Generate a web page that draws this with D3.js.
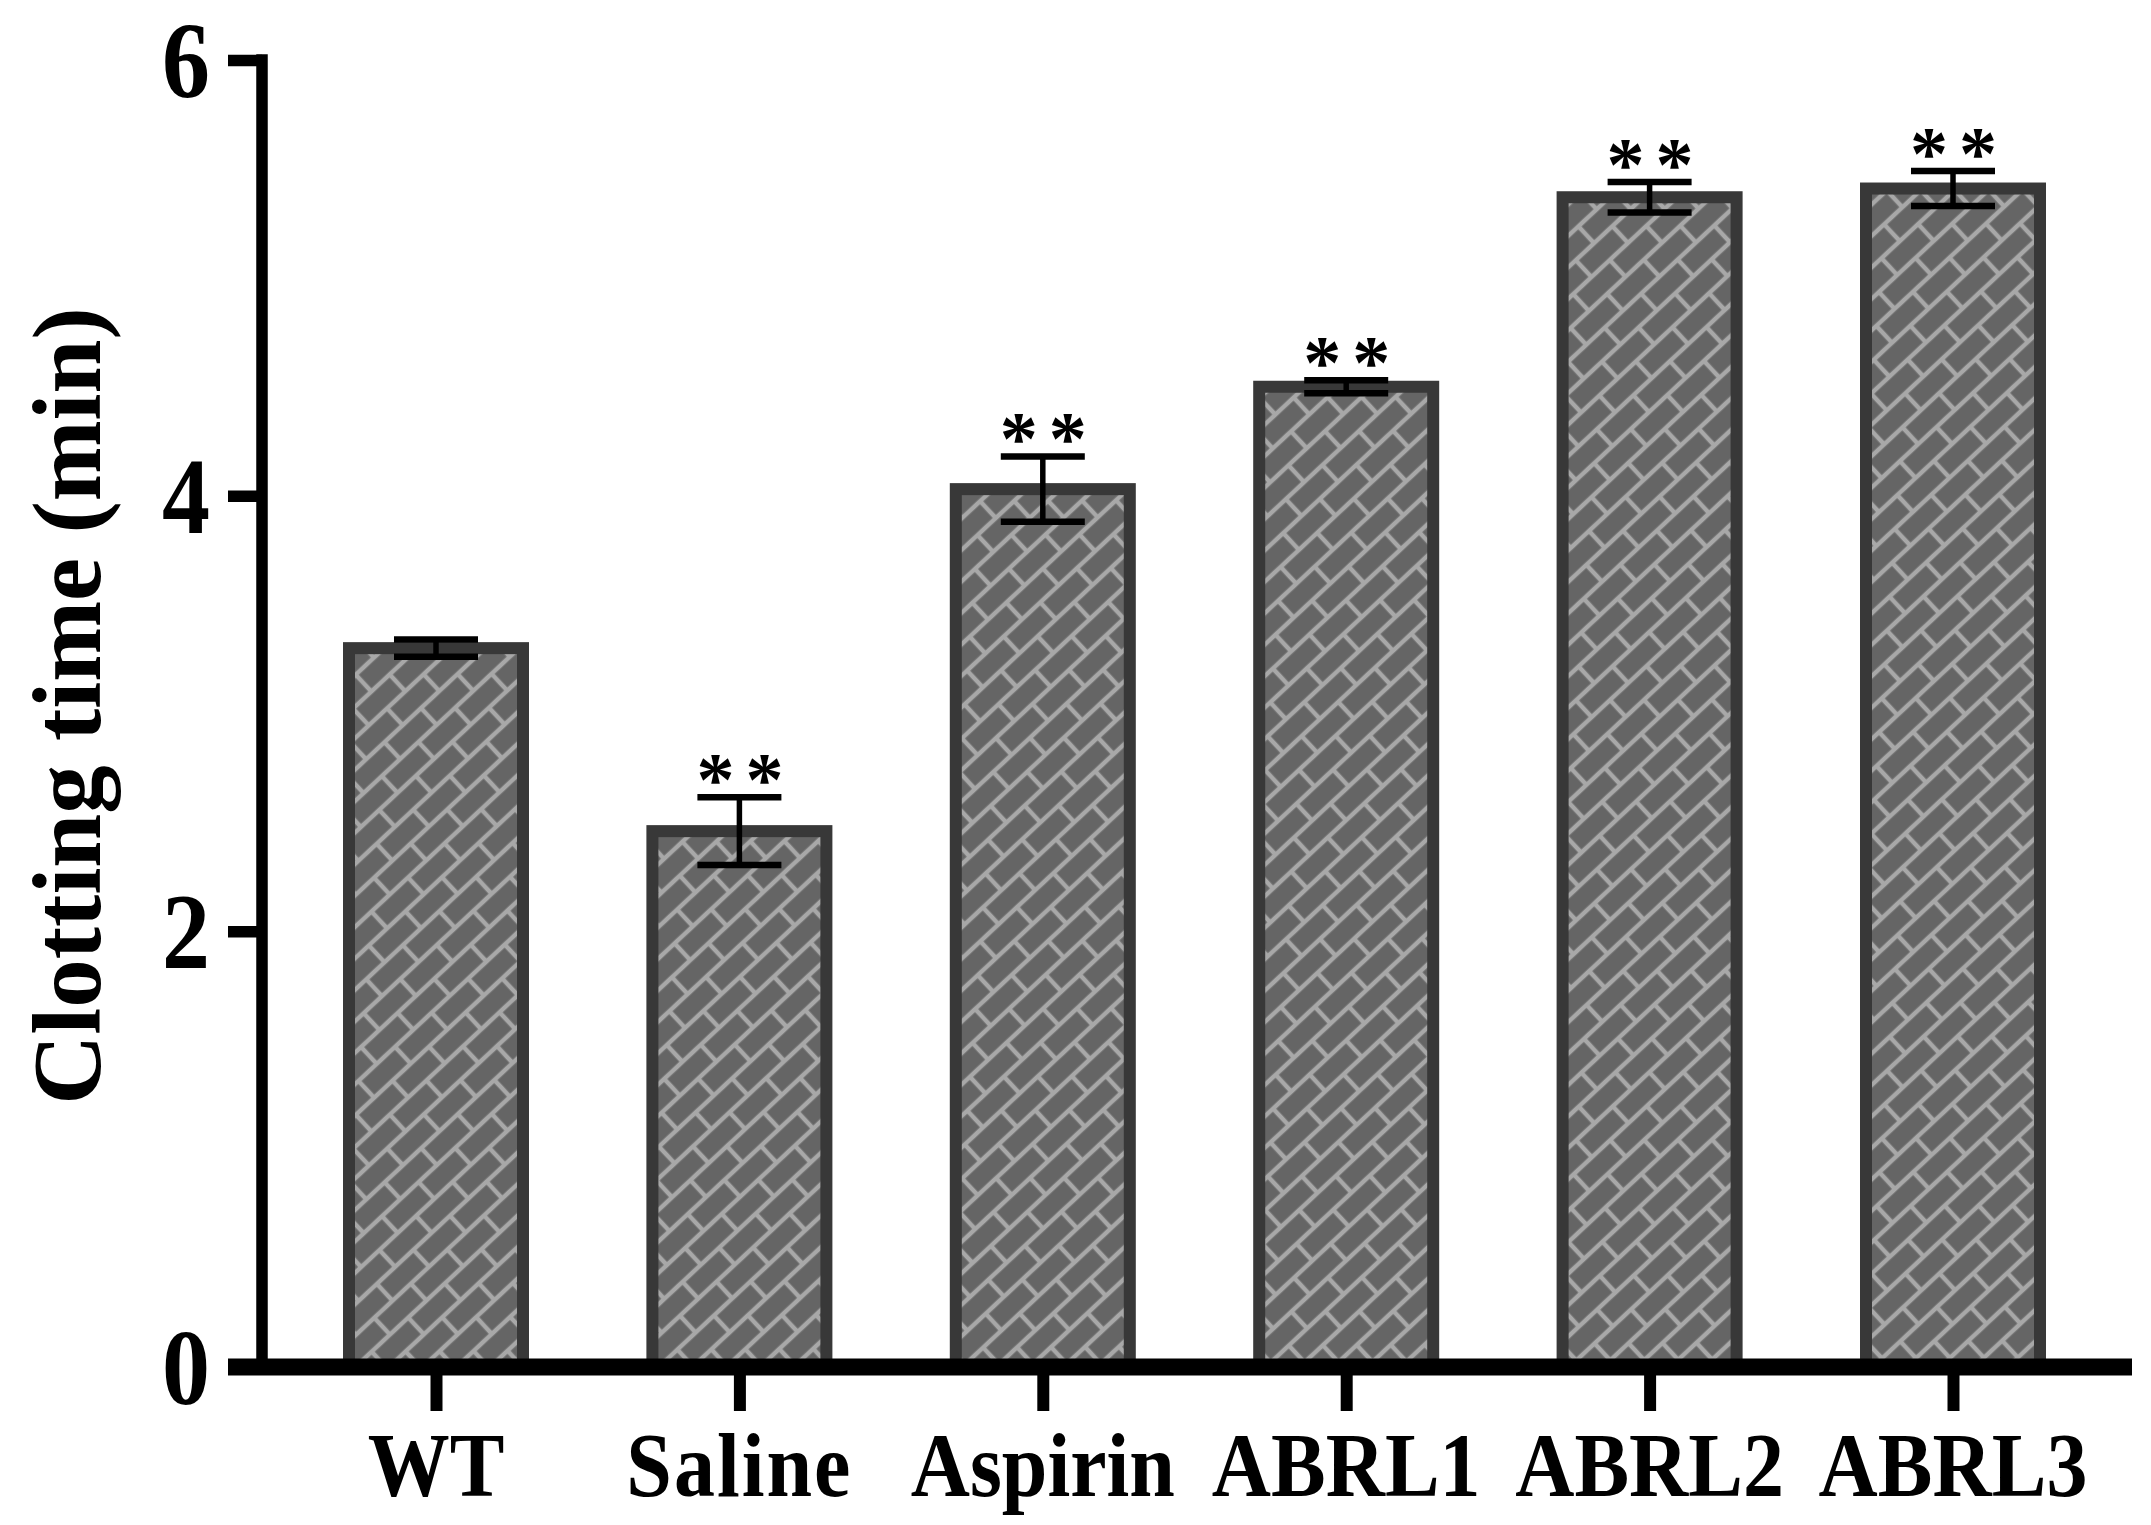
<!DOCTYPE html>
<html>
<head>
<meta charset="utf-8">
<script src="https://cdn.jsdelivr.net/npm/d3@7"></script>
<style>
  html, body { margin: 0; padding: 0; background: #fff; }
  svg { display: block; }
  text { font-family: "Liberation Serif", "Times New Roman", serif; font-weight: bold; fill: #000; }
</style>
</head>
<body>
<script>
// ---- data ----
const categories = ["WT", "Saline", "Aspirin", "ABRL1", "ABRL2", "ABRL3"];
const means      = [3.30, 2.46, 4.03, 4.50, 5.37, 5.41];
const errors     = [0.04, 0.155, 0.15, 0.03, 0.07, 0.08];
const signif     = ["", "**", "**", "**", "**", "**"];
const yTicks     = [0, 2, 4, 6];
const yLabel     = "Clotting time (min)";

const W = 2151, H = 1525;
const svg = d3.select("body").append("svg").attr("width", W).attr("height", H);

const y = d3.scaleLinear().domain([0, 6]).range([1367, 60]);
const x = d3.scalePoint().domain(categories).range([436, 1953]);
const barW = 174;

// brick pattern
const defs = svg.append("defs");
const PW = 50, PH = 46, RH = PH / 2;
const pat = defs.append("pattern")
  .attr("id", "brick")
  .attr("patternUnits", "userSpaceOnUse")
  .attr("width", PW).attr("height", PH)
  .attr("patternTransform", "rotate(-43)");
pat.append("rect").attr("width", PW).attr("height", PH).attr("fill", "#656565");
const mort = "#a8a8a8", mw = 4.5;
[0, RH, PH].forEach(yy => pat.append("line").attr("x1", 0).attr("x2", PW).attr("y1", yy).attr("y2", yy).attr("stroke", mort).attr("stroke-width", mw));
pat.append("line").attr("x1", 0).attr("x2", 0).attr("y1", 0).attr("y2", RH).attr("stroke", mort).attr("stroke-width", mw);
pat.append("line").attr("x1", PW).attr("x2", PW).attr("y1", 0).attr("y2", RH).attr("stroke", mort).attr("stroke-width", mw);
pat.append("line").attr("x1", PW / 2).attr("x2", PW / 2).attr("y1", RH).attr("y2", PH).attr("stroke", mort).attr("stroke-width", mw);

const data = categories.map((c, i) => ({ c, m: means[i], e: errors[i], s: signif[i] }));

// bars
svg.append("g").selectAll("rect").data(data).join("rect")
  .attr("x", d => x(d.c) - barW / 2)
  .attr("width", barW)
  .attr("y", d => y(d.m))
  .attr("height", d => y(0) - y(d.m))
  .attr("fill", "url(#brick)")
  .attr("stroke", "#383838")
  .attr("stroke-width", 12);

// error bars
const eg = svg.append("g").attr("stroke", "#000");
const capW = 84;
data.forEach(d => {
  const cx = x(d.c);
  eg.append("line").attr("x1", cx).attr("x2", cx).attr("y1", y(d.m + d.e)).attr("y2", y(d.m - d.e)).attr("stroke-width", 5.5);
  eg.append("line").attr("x1", cx - capW / 2).attr("x2", cx + capW / 2).attr("y1", y(d.m + d.e)).attr("y2", y(d.m + d.e)).attr("stroke-width", 6.5);
  eg.append("line").attr("x1", cx - capW / 2).attr("x2", cx + capW / 2).attr("y1", y(d.m - d.e)).attr("y2", y(d.m - d.e)).attr("stroke-width", 6.5);
});

// significance stars
svg.append("g").selectAll("text").data(data.filter(d => d.s)).join("text")
  .attr("x", d => x(d.c) + 6)
  .attr("y", d => y(d.m + d.e) + 8)
  .attr("text-anchor", "middle")
  .attr("font-size", 76)
  .attr("letter-spacing", 11)
  .text(d => d.s);

// y axis
const yAxis = d3.axisLeft(y).tickValues(yTicks).tickSize(34).tickFormat(d3.format("d"));
const gy = svg.append("g").attr("transform", "translate(262,0)").call(yAxis);
gy.select(".domain").remove();
gy.selectAll(".tick line").attr("stroke", "#000").attr("stroke-width", 11.5);
gy.selectAll(".tick text")
  .attr("x", -52).attr("y", 0).attr("dy", null)
  .attr("font-size", 96).attr("font-family", "Liberation Serif").attr("font-weight", "bold")
  .attr("dominant-baseline", "central")
  .attr("transform", "scale(1,1.12)");
gy.append("line").attr("x1", 0).attr("x2", 0).attr("y1", y(6) - 5.75).attr("y2", y(0))
  .attr("stroke", "#000").attr("stroke-width", 11.5);

// x axis
const xAxis = d3.axisBottom(x).tickSize(36).tickSizeOuter(0).tickFormat("");
const gx = svg.append("g").attr("transform", `translate(0,${y(0) + 8})`).call(xAxis);
gx.select(".domain").remove();
gx.selectAll(".tick line").attr("stroke", "#000").attr("stroke-width", 12);
svg.append("line").attr("x1", 228).attr("x2", 2132).attr("y1", y(0)).attr("y2", y(0))
  .attr("stroke", "#000").attr("stroke-width", 17);

// x labels
svg.append("g").selectAll("text").data(categories).join("text")
  .attr("transform", d => `translate(${x(d)},1496) scale(1,1.12)`)
  .attr("text-anchor", "middle")
  .attr("font-size", 82)
  .attr("letter-spacing", d => d === "Saline" ? 2 : 0)
  .text(d => d);

// y label
svg.append("text")
  .attr("transform", "translate(100,706) rotate(-90)")
  .attr("text-anchor", "middle")
  .attr("font-size", 97)
  .text(yLabel);
</script>
</body>
</html>
